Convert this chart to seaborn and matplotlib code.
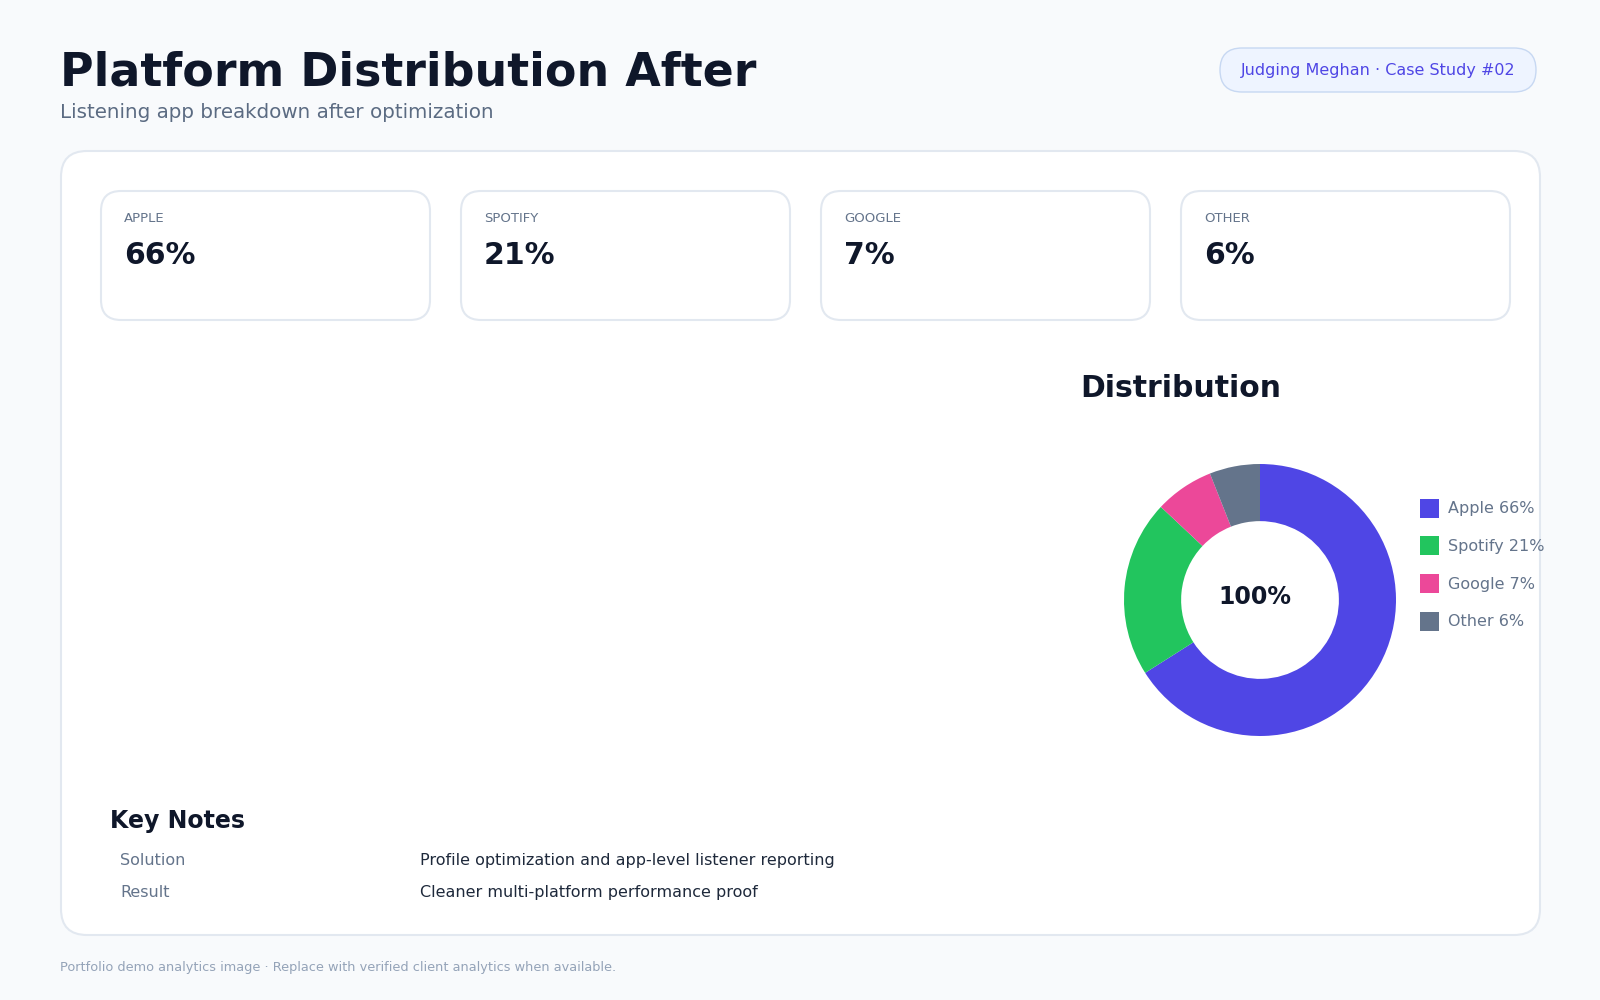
import matplotlib
matplotlib.use("Agg")
import matplotlib.pyplot as plt
from matplotlib.patches import FancyBboxPatch, Rectangle
import seaborn as sns

# ---------------- data ----------------
platforms = ["Apple", "Spotify", "Google", "Other"]
shares = [66, 21, 7, 6]
platform_colors = ["#4f46e5", "#22c55e", "#ec4899", "#64748b"]
center_label = "100%"
title = "Platform Distribution After"
subtitle = "Listening app breakdown after optimization"
badge = "Judging Meghan \u00b7 Case Study #02"
chart_title = "Distribution"
notes_title = "Key Notes"
note_labels = ["Solution", "Result"]
note_values = ["Profile optimization and app-level listener reporting",
               "Cleaner multi-platform performance proof"]
footer = "Portfolio demo analytics image \u00b7 Replace with verified client analytics when available."

# ---------------- style ----------------
sns.set_theme(style="white")
plt.rcParams["font.family"] = ["DejaVu Sans"]
palette = sns.color_palette(platform_colors)

BG = "#f8fafc"
DARK = "#0f172a"
MUTED = "#64748b"
BORDER = "#e2e8f0"

W, H = 1600, 1000
fig = plt.figure(figsize=(16, 10), dpi=100, facecolor=BG)

# background canvas in pixel coordinates
bg = fig.add_axes([0, 0, 1, 1], zorder=0)
bg.set_xlim(0, W)
bg.set_ylim(H, 0)
bg.axis("off")
bg.set_facecolor(BG)


def rbox(x0, y0, x1, y1, r, fc, ec, lw=1.5, z=1):
    p = FancyBboxPatch((x0, y0), x1 - x0, y1 - y0,
                       boxstyle=f"round,pad=0,rounding_size={r}",
                       fc=fc, ec=ec, lw=lw, zorder=z)
    bg.add_patch(p)


# header
bg.text(60, 85, title, fontsize=33, fontweight="bold", color=DARK, va="baseline", ha="left")
bg.text(60, 118, subtitle, fontsize=14.3, color="#5b6b82", va="baseline", ha="left")

# badge
rbox(1220, 48, 1536, 92, 22, "#eef4ff", "#c7d8f2", lw=1.0)
bg.text(1378, 75, badge, fontsize=11.5, color="#4f46e5", ha="center", va="baseline", zorder=3)

# main panel
rbox(61, 151, 1540, 935, 26, "white", BORDER, lw=1.5)

# KPI cards
card_w, card_gap, card_x0 = 329, 31, 101
for i, (name, val) in enumerate(zip(platforms, shares)):
    x0 = card_x0 + i * (card_w + card_gap)
    rbox(x0, 191, x0 + card_w, 320, 20, "white", BORDER, lw=1.5, z=2)
    bg.text(x0 + 23, 222, name.upper(), fontsize=9.5, color=MUTED, va="baseline", zorder=3)
    bg.text(x0 + 23, 264, f"{val}%", fontsize=21.5, fontweight="bold", color=DARK,
            va="baseline", zorder=3)

# chart title
bg.text(1080, 397, chart_title, fontsize=21.5, fontweight="bold", color=DARK, va="baseline")

# donut
cx, cy, R = 1260, 600, 136
size = 3 * R
ax = fig.add_axes([(cx - size / 2) / W, 1 - (cy + size / 2) / H, size / W, size / H], zorder=2)
ax.pie(shares, colors=palette, startangle=90, counterclock=False, radius=1,
       wedgeprops=dict(width=0.42, edgecolor="none"))
ax.set_xlim(-1.5, 1.5)
ax.set_ylim(-1.5, 1.5)
ax.set_aspect("equal")
ax.axis("off")
ax.text(-0.04, 0.04, center_label, fontsize=17, fontweight="bold", color=DARK,
        ha="center", va="center_baseline")

# legend
for i, (name, val) in enumerate(zip(platforms, shares)):
    yc = 508 + i * 37.7
    bg.add_patch(Rectangle((1420, yc - 9.5), 19, 19, fc=palette[i], ec="none", zorder=3))
    bg.text(1448, yc + 5.3, f"{name} {val}%", fontsize=11.5, color=MUTED, va="baseline", zorder=3)

# key notes
bg.text(110, 828, notes_title, fontsize=17, fontweight="bold", color=DARK, va="baseline")
for i, (lab, val) in enumerate(zip(note_labels, note_values)):
    yb = 865 + i * 32
    bg.text(120, yb, lab, fontsize=11.5, color=MUTED, va="baseline")
    bg.text(420, yb, val, fontsize=11.5, color="#1e293b", va="baseline")

# footer
bg.text(60, 971, footer, fontsize=9.3, color="#94a3b8", va="baseline")

fig.savefig("out.png", dpi=100, facecolor=BG)
